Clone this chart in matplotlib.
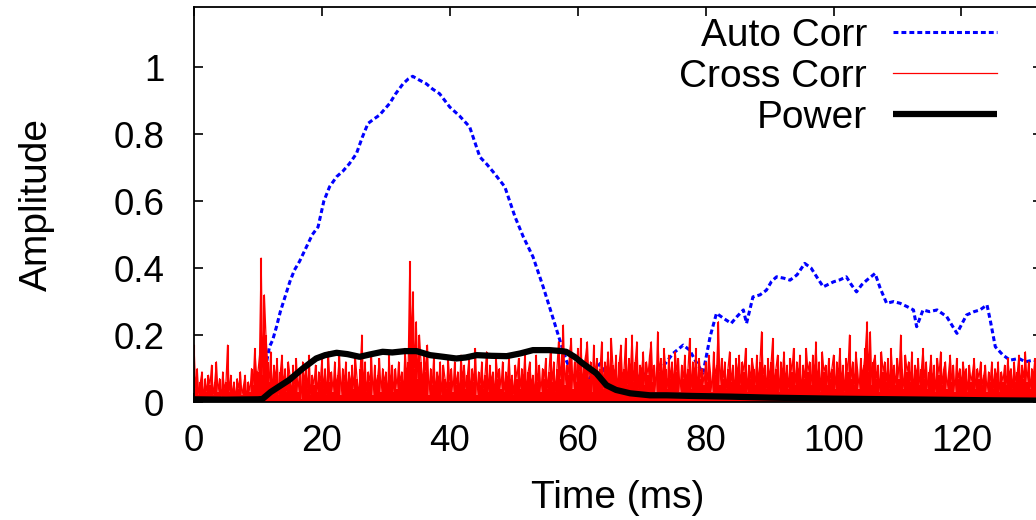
import numpy as np
import matplotlib
matplotlib.use("Agg")
import matplotlib.pyplot as plt
from matplotlib.ticker import MultipleLocator, FuncFormatter

plt.rcParams['font.family'] = ['Liberation Sans', 'DejaVu Sans']

# auto correlation (blue, dotted)
auto_t = [0, 2, 4, 6, 8, 10, 10.5, 11, 11.4, 11.8, 12.3, 12.9, 13.5, 14.4, 15, 15.7, 16.5, 17.6, 18.5, 19.4,
          20.3, 21.2, 22.3, 23.3, 24.3, 25.4, 26.3, 27.2, 28.1, 29, 30.6, 31.5, 32.7, 33.5, 34.2, 35.2, 36.3,
          37.3, 38.4, 40, 41.5, 43.1, 44.7, 45.8, 46.8, 48.6, 50.2, 51.5, 53, 54.6, 55.9, 57.2, 58.2, 59.3,
          60.5, 61.5, 62.5, 63.5, 64.5, 66, 68, 70, 72, 73.3, 74.9, 76.5, 77.5, 78.5, 79.6, 80.7, 81.7, 82.8,
          84, 84.9, 85.9, 86.4, 87.4, 88.5, 89.5, 90.3, 91.1, 92.2, 93.2, 94.3, 95.5, 96.5, 97.5, 98.4, 100,
          101, 102, 102.8, 103.6, 104.4, 105.2, 106.5, 107.3, 108.3, 109.4, 110.4, 111.5, 112.5, 113, 114,
          115, 116.2, 117.7, 118.5, 119.3, 120.8, 122, 122.9, 124, 124.5, 125.3, 126.5, 127.6, 129, 130,
          131.2, 132.5]
auto_v = [0.01, 0.005, 0.01, 0.005, 0.01, 0.01, 0.03, 0.08, 0.125, 0.165, 0.185, 0.225, 0.27, 0.324, 0.36,
          0.394, 0.42, 0.464, 0.5, 0.523, 0.6, 0.643, 0.673, 0.69, 0.712, 0.742, 0.79, 0.832, 0.845, 0.857,
          0.892, 0.92, 0.951, 0.965, 0.973, 0.962, 0.951, 0.935, 0.921, 0.881, 0.855, 0.822, 0.732, 0.71,
          0.687, 0.643, 0.553, 0.493, 0.434, 0.344, 0.265, 0.185, 0.125, 0.076, 0.05, 0.06, 0.09, 0.115,
          0.076, 0.06, 0.07, 0.08, 0.095, 0.105, 0.145, 0.17, 0.155, 0.12, 0.086, 0.195, 0.265, 0.25, 0.235,
          0.255, 0.275, 0.235, 0.314, 0.32, 0.334, 0.36, 0.374, 0.37, 0.364, 0.38, 0.414, 0.4, 0.37, 0.344,
          0.359, 0.365, 0.374, 0.35, 0.329, 0.35, 0.364, 0.384, 0.34, 0.295, 0.3, 0.295, 0.285, 0.275, 0.225,
          0.275, 0.27, 0.275, 0.255, 0.23, 0.205, 0.26, 0.27, 0.275, 0.29, 0.245, 0.165, 0.14, 0.125, 0.13,
          0.12, 0.125, 0.12]

# cross correlation (red), one sample every 0.25 ms, in hundredths
cross_step = 0.25
cross_v = [
    17, 4, 10, 2, 6, 9, 1, 7, 3, 8, 5, 11, 2, 6, 12, 3, 7, 1, 9, 4,
    6, 17, 3, 8, 2, 6, 1, 7, 4, 9, 2, 5, 8, 1, 6, 3, 10, 5, 16, 9,
    9, 14, 43, 8, 32, 20, 12, 6, 15, 3, 11, 7, 13, 2, 9, 14, 5, 10, 3, 12,
    8, 2, 11, 5, 13, 3, 9, 1, 12, 6, 10, 4, 14, 2, 8, 5, 11, 3, 9, 6,
    13, 4, 10, 2, 15, 6, 9, 3, 12, 5, 8, 14, 2, 10, 6, 12, 3, 9, 5, 11,
    4, 13, 7, 2, 10, 20, 5, 12, 3, 9, 6, 14, 2, 11, 5, 8, 13, 3, 10, 6,
    9, 2, 14, 5, 11, 3, 10, 4, 12, 6, 9, 3, 16, 8, 12, 42, 18, 33, 10, 24,
    7, 20, 12, 5, 15, 9, 17, 2, 10, 5, 14, 3, 9, 6, 12, 2, 11, 7, 4, 13,
    6, 10, 3, 12, 5, 9, 2, 14, 7, 11, 4, 8, 13, 3, 10, 6, 16, 2, 9, 5,
    12, 4, 8, 15, 3, 11, 6, 9, 2, 13, 7, 10, 4, 12, 3, 9, 6, 14, 5, 8,
    2, 11, 7, 13, 4, 10, 6, 15, 3, 9, 12, 5, 8, 2, 14, 6, 11, 3, 10, 7,
    13, 4, 9, 16, 6, 12, 3, 10, 18, 7, 14, 23, 5, 11, 8, 15, 19, 4, 12, 6,
    16, 9, 19, 5, 11, 14, 18, 7, 12, 3, 17, 8, 13, 6, 10, 18, 4, 12, 9, 15,
    6, 19, 11, 8, 14, 3, 12, 17, 7, 10, 19, 5, 13, 9, 20, 6, 12, 18, 4, 11,
    9, 15, 5, 12, 8, 14, 18, 6, 11, 3, 21, 9, 13, 6, 16, 10, 4, 14, 7, 12,
    5, 15, 9, 13, 3, 11, 7, 14, 6, 10, 19, 4, 12, 8, 16, 3, 13, 7, 10, 5,
    12, 6, 14, 9, 3, 15, 8, 11, 24, 5, 13, 7, 12, 4, 10, 15, 6, 11, 3, 13,
    8, 14, 5, 12, 9, 16, 3, 11, 7, 13, 10, 5, 14, 6, 12, 21, 8, 11, 4, 13,
    7, 12, 19, 5, 10, 14, 3, 12, 8, 15, 6, 11, 4, 13, 9, 16, 5, 12, 8, 14,
    3, 11, 7, 16, 9, 12, 5, 14, 8, 18, 6, 12, 3, 15, 9, 11, 5, 13, 7, 10,
    14, 4, 12, 8, 16, 6, 11, 3, 13, 9, 20, 7, 12, 5, 15, 10, 4, 13, 8, 11,
    16, 24, 9, 21, 5, 12, 14, 7, 11, 3, 15, 9, 12, 6, 13, 4, 16, 8, 11, 5,
    13, 7, 20, 10, 4, 14, 9, 12, 6, 15, 3, 11, 8, 13, 5, 10, 16, 7, 12, 4,
    9, 14, 6, 11, 3, 13, 8, 15, 5, 10, 12, 4, 9, 14, 6, 11, 3, 13, 7, 10,
    5, 12, 8, 10, 3, 11, 6, 9, 13, 4, 10, 7, 12, 5, 8, 11, 3, 9, 6, 12,
    4, 10, 7, 12, 3, 9, 6, 11, 5, 13, 8, 10, 4, 12, 6, 9, 14, 5, 11, 7,
    15, 6, 12, 4, 10, 8, 13, 5, 9]

# power (black, thick)
power_t = [0, 5, 10, 10.7, 12, 14.9, 17, 19.1, 20.5, 22.3, 24, 25.9, 27.5, 29.5, 31, 33, 34.8, 36.9, 39, 41,
           42.5, 44.2, 46.5, 48.9, 51, 53, 55.6, 57.5, 58.2, 59.5, 60.8, 62.9, 64.5, 66, 68.2, 71.3, 73.9, 78,
           84, 90, 100, 105, 115, 125, 132.5]
power_v = [0.008, 0.007, 0.008, 0.009, 0.03, 0.066, 0.1, 0.13, 0.14, 0.147, 0.143, 0.135, 0.142, 0.15, 0.148,
           0.152, 0.152, 0.14, 0.135, 0.13, 0.133, 0.14, 0.138, 0.137, 0.145, 0.155, 0.155, 0.152, 0.15, 0.135,
           0.115, 0.086, 0.05, 0.036, 0.026, 0.02, 0.02, 0.018, 0.016, 0.013, 0.01, 0.009, 0.007, 0.005, 0.004]

W, H = 1036, 520
fig = plt.figure(figsize=(W / 100, H / 100), dpi=100)
ax = fig.add_axes([194 / W, (H - 402) / H, (1042 - 194) / W, (402 - 7) / H])

cross_t = np.arange(len(cross_v)) * cross_step
cross_y = np.array(cross_v) / 100.0
ax.plot(auto_t, auto_v, color='#0000ff', lw=2.2, dashes=(1.6, 1.0), label='Auto Corr')
ax.vlines(cross_t, 0, cross_y, color='#ff0000', lw=1.5)
ax.plot(cross_t, cross_y, color='#ff0000', lw=0.9, label='Cross Corr')
ax.plot(power_t, power_v, color='black', lw=4.5, solid_capstyle='butt', label='Power')

ax.set_xlim(0, 132.6)
ax.set_ylim(0, 1.18)
ax.xaxis.set_major_locator(MultipleLocator(20))
ax.yaxis.set_major_locator(MultipleLocator(0.2))
ax.yaxis.set_major_formatter(FuncFormatter(lambda v, p: '%g' % round(v, 2)))
ax.tick_params(direction='in', length=6.5, width=1.2, top=True, right=True, labelsize=26.5)
ax.tick_params(axis='x', pad=16)
ax.tick_params(axis='y', pad=21.5)
for s in ax.spines.values():
    s.set_linewidth(1.3)

ax.set_xlabel('Time (ms)', fontsize=28)
ax.set_ylabel('Amplitude', fontsize=28)
ax.xaxis.set_label_coords(0.5, -0.197)
ax.yaxis.set_label_coords(-0.164, 0.5)

leg = ax.legend(loc='upper right', bbox_to_anchor=(997 / W, 1 - 18 / H), bbox_transform=fig.transFigure,
                frameon=False, markerfirst=False, fontsize=28, handlelength=2.67, handletextpad=0.67,
                labelspacing=0.13, borderpad=0, borderaxespad=0)
for t in leg.get_texts():
    t.set_ha('right')

fig.savefig('out.png', dpi=100)
